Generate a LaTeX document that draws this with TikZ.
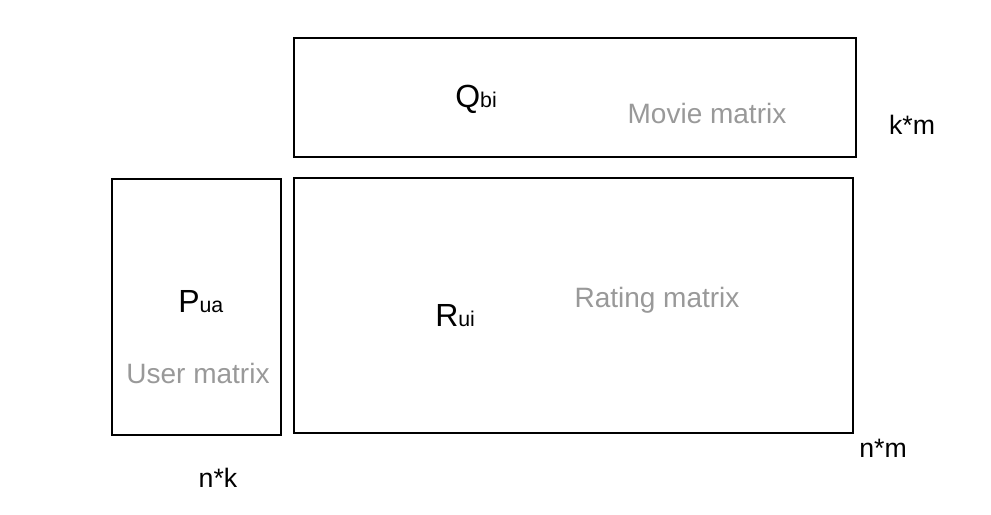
\documentclass[tikz,border=0pt]{standalone}
\usepackage{fontspec}
\setmainfont{Liberation Sans}
\definecolor{labelgray}{RGB}{153,153,153}
\tikzset{
  mbox/.style={line width=2pt},
  bigtxt/.style={inner sep=0pt, font=\fontsize{24}{28}\selectfont},
  greytxt/.style={inner sep=0pt, text=labelgray, font=\fontsize{21}{25}\selectfont},
  dimtxt/.style={inner sep=0pt, font=\fontsize{20}{24}\selectfont}
}
\newcommand{\mname}[2]{#1{\fontsize{16}{19}\selectfont #2}}
\begin{document}
\begin{tikzpicture}[x=0.75pt,y=0.75pt,yscale=-1,xscale=1]
\useasboundingbox (0,0) rectangle (991,514);

% Movie matrix Q
\draw [mbox] (294,38) rectangle (856,157);
% User matrix P
\draw [mbox] (112,179) rectangle (281,435);
% Rating matrix R
\draw [mbox] (294,178) rectangle (853,433);

% Text Node
\node [bigtxt, anchor=base west] (qname) at (455,107) {\mname{Q}{bi}};
% Text Node
\node [greytxt] (qlabel) at (707,113) {Movie matrix};
% Text Node
\node [dimtxt] (qdim) at (912,125) {k*m};
% Text Node
\node [bigtxt, anchor=base west] (pname) at (178,312) {\mname{P}{ua}};
% Text Node
\node [greytxt] (plabel) at (198,373) {User matrix};
% Text Node
\node [dimtxt] (pdim) at (218,478) {n*k};
% Text Node
\node [bigtxt, anchor=base west] (rname) at (435,326) {\mname{R}{ui}};
% Text Node
\node [greytxt] (rlabel) at (657,300) {Rating matrix};
% Text Node
\node [dimtxt] (rdim) at (883,448) {n*m};

\end{tikzpicture}
\end{document}
